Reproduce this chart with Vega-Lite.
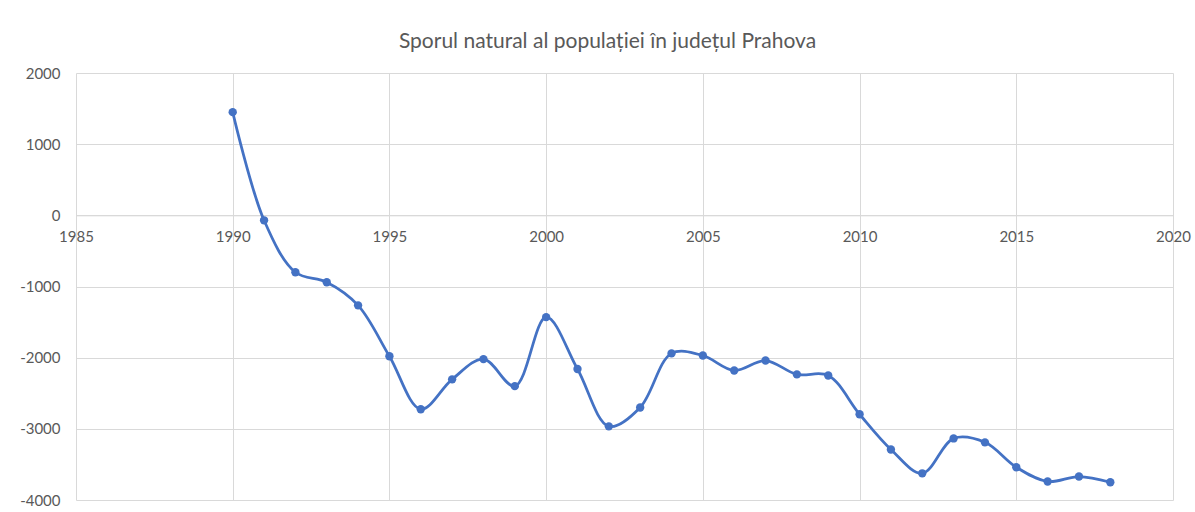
{
  "$schema": "https://vega.github.io/schema/vega-lite/v6.json",
  "width": 1097,
  "height": 427,
  "autosize": {"type": "none"},
  "padding": {"left": 76, "top": 73, "right": 22, "bottom": 12},
  "background": "white",
  "title": {
    "text": "Sporul natural al populației în județul Prahova",
    "font": "Lato",
    "fontSize": 21,
    "fontWeight": "normal",
    "color": "#595959",
    "anchor": "middle",
    "dx": -17,
    "offset": 14
  },
  "config": {
    "view": {"stroke": null},
    "axis": {
      "labelFont": "Lato",
      "labelFontSize": 15,
      "labelColor": "#595959",
      "gridColor": "#d9d9d9",
      "gridWidth": 1,
      "ticks": false,
      "title": null
    }
  },
  "data": {
    "values": [
      {"year": 1990, "value": 1450},
      {"year": 1991, "value": -70},
      {"year": 1992, "value": -800},
      {"year": 1993, "value": -940},
      {"year": 1994, "value": -1265},
      {"year": 1995, "value": -1980},
      {"year": 1996, "value": -2725},
      {"year": 1997, "value": -2305},
      {"year": 1998, "value": -2020},
      {"year": 1999, "value": -2400},
      {"year": 2000, "value": -1430},
      {"year": 2001, "value": -2160},
      {"year": 2002, "value": -2965},
      {"year": 2003, "value": -2700},
      {"year": 2004, "value": -1940},
      {"year": 2005, "value": -1970},
      {"year": 2006, "value": -2180},
      {"year": 2007, "value": -2040},
      {"year": 2008, "value": -2235},
      {"year": 2009, "value": -2250},
      {"year": 2010, "value": -2795},
      {"year": 2011, "value": -3290},
      {"year": 2012, "value": -3625},
      {"year": 2013, "value": -3135},
      {"year": 2014, "value": -3190},
      {"year": 2015, "value": -3540},
      {"year": 2016, "value": -3740},
      {"year": 2017, "value": -3670},
      {"year": 2018, "value": -3750}
    ]
  },
  "encoding": {
    "x": {
      "field": "year",
      "type": "quantitative",
      "scale": {"domain": [1985, 2020], "nice": false, "zero": false},
      "axis": {
        "values": [1985, 1990, 1995, 2000, 2005, 2010, 2015, 2020],
        "labelExpr": "'' + datum.value",
        "offset": -284.67,
        "domainColor": "#d9d9d9",
        "domainWidth": 1,
        "labelPadding": 14,
        "labelFlush": false
      }
    },
    "y": {
      "field": "value",
      "type": "quantitative",
      "scale": {"domain": [-4000, 2000], "nice": false},
      "axis": {
        "values": [-4000, -3000, -2000, -1000, 0, 1000, 2000],
        "labelExpr": "'' + datum.value",
        "domain": false,
        "labelPadding": 16
      }
    }
  },
  "layer": [
    {
      "mark": {"type": "line", "interpolate": "catmull-rom", "color": "#4472C4", "strokeWidth": 2.75}
    },
    {
      "mark": {"type": "point", "filled": true, "color": "#4472C4", "opacity": 1, "size": 70}
    }
  ]
}
